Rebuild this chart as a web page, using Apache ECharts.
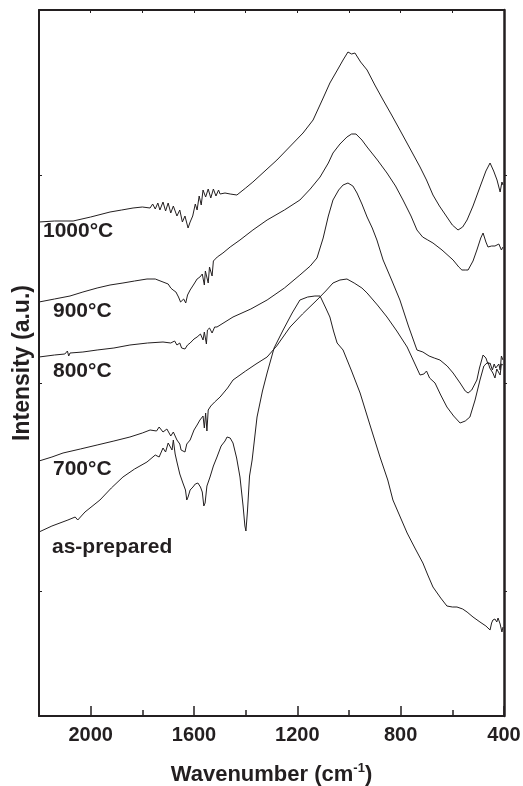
<!DOCTYPE html>
<html>
<head>
<meta charset="utf-8">
<script src="https://cdn.jsdelivr.net/npm/echarts@6/dist/echarts.min.js"></script>
<style>
  html, body { margin: 0; padding: 0; background: #fff; }
  #chart { width: 523px; height: 786px; }
</style>
</head>
<body>
<div id="chart"></div>
<script>
// FTIR spectra, [wavenumber (cm-1), intensity (a.u., offset stacked)]
const s1000 = [[2200,494],[2140,495],[2068,495],[2000,499],[1925,504],[1880,506],[1836,508],[1800,509],[1770,508],[1760,512],[1750,507],[1740,513],[1732,506],[1720,514],[1710,505],[1700,513],[1690,503],[1680,510],[1666,500],[1655,506],[1645,494],[1635,500],[1623,488],[1615,494],[1605,500],[1595,512],[1588,506],[1580,520],[1572,511],[1565,526],[1555,519],[1545,527],[1535,518],[1525,527],[1515,520],[1505,526],[1499,522],[1480,523],[1460,522],[1434,521],[1400,528],[1372,534],[1279,556],[1178,583],[1139,596],[1100,618],[1074,633],[1045,646],[1023,656],[1004,664],[990,662],[977,663],[955,654],[930,646],[900,631],[868,616],[835,601],[803,586],[765,568],[725,549],[700,536],[675,521],[650,510],[621,499],[600,491],[578,486],[560,489],[543,496],[520,510],[493,529],[470,545],[454,553],[440,545],[427,536],[415,524],[408,534],[404,531]];
const s900 = [[2200,414],[2140,417],[2080,420],[2030,424],[1975,428],[1925,431],[1875,433],[1830,435],[1782,437],[1750,437],[1720,434],[1700,432],[1690,428],[1681,426],[1670,424],[1660,419],[1652,414],[1646,412],[1640,417],[1632,413],[1625,421],[1615,426],[1600,432],[1588,437],[1577,439],[1568,442],[1560,431],[1556,445],[1550,447],[1545,433],[1540,449],[1535,450],[1530,440],[1525,455],[1510,459],[1488,463],[1460,469],[1422,476],[1372,486],[1317,496],[1250,506],[1190,516],[1150,527],[1112,539],[1080,553],[1062,563],[1035,572],[1008,579],[990,582],[973,582],[950,576],[930,569],[890,556],[853,543],[820,530],[791,516],[760,500],[737,486],[715,479],[695,476],[675,473],[640,466],[597,456],[575,449],[563,446],[550,446],[539,446],[520,455],[505,466],[490,478],[481,483],[470,474],[462,469],[455,468],[448,470],[443,468],[435,470],[428,468],[420,472],[415,471],[410,466],[404,469]];
const s800 = [[2200,359],[2140,361],[2100,362],[2090,365],[2085,360],[2080,363],[2030,364],[1975,366],[1910,368],[1848,371],[1780,373],[1720,374],[1690,373],[1675,375],[1666,371],[1655,373],[1648,368],[1643,369],[1635,367],[1625,371],[1615,373],[1600,377],[1588,379],[1575,382],[1565,376],[1560,384],[1552,372],[1548,386],[1540,388],[1530,383],[1520,389],[1511,389],[1480,394],[1449,399],[1380,407],[1317,416],[1250,428],[1190,441],[1150,450],[1124,458],[1100,478],[1080,500],[1062,516],[1040,526],[1023,531],[1004,533],[985,530],[969,523],[950,512],[930,499],[910,488],[892,476],[868,456],[835,436],[803,416],[770,390],[737,366],[714,364],[690,360],[670,358],[648,356],[620,350],[597,343],[570,333],[550,325],[539,323],[525,326],[505,336],[495,348],[481,361],[470,358],[462,352],[454,353],[445,346],[438,352],[432,348],[427,348],[420,352],[415,346],[410,360],[404,356]];
const s700 = [[2200,255],[2150,259],[2107,263],[2040,267],[1975,271],[1910,275],[1848,279],[1800,283],[1770,286],[1745,285],[1735,289],[1720,284],[1705,287],[1690,280],[1680,284],[1666,276],[1655,272],[1650,266],[1643,268],[1635,264],[1628,272],[1615,276],[1600,286],[1588,291],[1577,296],[1565,300],[1560,288],[1555,303],[1550,285],[1545,306],[1535,310],[1520,314],[1499,319],[1470,328],[1449,336],[1400,345],[1360,352],[1317,359],[1280,370],[1228,389],[1180,402],[1124,416],[1090,425],[1062,433],[1035,436],[1008,437],[980,433],[950,428],[930,423],[890,411],[853,399],[815,385],[775,369],[750,355],[725,341],[710,342],[700,345],[694,344],[688,338],[667,333],[645,321],[621,309],[595,300],[570,293],[550,295],[532,299],[512,316],[493,336],[478,350],[462,354],[455,348],[443,343],[435,338],[428,347],[423,346],[415,341],[410,352],[404,351]];
const sPrep = [[2200,184],[2150,190],[2088,196],[2060,199],[2050,196],[2022,204],[1964,216],[1920,228],[1875,239],[1830,247],[1782,254],[1750,261],[1735,259],[1720,268],[1710,264],[1700,273],[1693,271],[1685,266],[1680,276],[1673,262],[1666,254],[1655,242],[1643,233],[1633,226],[1628,216],[1623,219],[1615,226],[1604,229],[1595,232],[1585,233],[1575,229],[1568,224],[1562,210],[1557,213],[1550,230],[1538,239],[1525,250],[1511,259],[1495,270],[1480,275],[1472,279],[1460,278],[1449,273],[1435,258],[1422,239],[1410,210],[1403,190],[1399,185],[1393,205],[1385,240],[1375,256],[1356,299],[1335,325],[1317,343],[1290,368],[1255,386],[1220,403],[1190,416],[1160,419],[1132,420],[1112,420],[1090,408],[1074,399],[1060,385],[1046,373],[1023,366],[990,345],[957,323],[920,292],[880,259],[850,236],[830,216],[800,198],[775,183],[745,168],[714,153],[695,141],[675,129],[645,118],[621,110],[600,109],[582,109],[560,107],[543,104],[520,99],[493,94],[470,90],[454,86],[448,93],[443,96],[435,97],[428,94],[423,98],[415,92],[408,84],[404,89]];

const seriesNames = ["1000°C", "900°C", "800°C", "700°C", "as-prepared"];
const seriesData = [s1000, s900, s800, s700, sPrep];
const majorTicks = [400, 800, 1200, 1600, 2000];
const minorTicks = [600, 1000, 1400, 1800];
const topTicks = [600, 800, 1000, 1200, 1400, 1600, 1800, 2000];
const yTicks = [125, 333, 541];

const ink = "#231f20";
const font = "'Liberation Sans', Arial, sans-serif";

const chart = echarts.init(document.getElementById("chart"));

// label positions (px) for the curve names
const labelPos = [[43, 232], [53, 312], [53, 372], [53, 470], [52, 548]];

const options = {
  animation: false,
  backgroundColor: "#fff",
  grid: { left: 39, right: 19, top: 10, bottom: 70, containLabel: false, outerBoundsMode: "none" },
  xAxis: [
    {
      type: "value", min: 400, max: 2200, inverse: true, position: "bottom",
      axisLine: { lineStyle: { color: ink, width: 2 } },
      axisTick: { inside: true, length: 10, lineStyle: { color: ink, width: 1.5 }, customValues: majorTicks },
      axisLabel: {
        customValues: majorTicks, color: ink, fontSize: 20, fontWeight: "bold", fontFamily: font, margin: 9,
        formatter: function(v) { return String(v); }
      },
      splitLine: { show: false },
      name: "{a|Wavenumber (cm}{s|-1}{a|)}",
      nameLocation: "middle", nameGap: 46,
      nameTextStyle: {
        rich: {
          a: { color: ink, fontSize: 22, fontWeight: "bold", fontFamily: font },
          s: { color: ink, fontSize: 13, fontWeight: "bold", fontFamily: font, padding: [0, 0, 12, 0] }
        }
      }
    },
    {
      type: "value", min: 400, max: 2200, inverse: true, position: "bottom",
      axisLine: { show: false },
      axisTick: { inside: true, length: 6, lineStyle: { color: ink, width: 1.5 }, customValues: minorTicks },
      axisLabel: { show: false }, splitLine: { show: false }
    },
    {
      type: "value", min: 400, max: 2200, inverse: true, position: "top",
      axisLine: { lineStyle: { color: ink, width: 2 } },
      axisTick: { inside: true, length: 3, lineStyle: { color: ink, width: 1 }, customValues: topTicks },
      axisLabel: { show: false }, splitLine: { show: false }
    }
  ],
  yAxis: [
    {
      type: "value", min: 0, max: 706, position: "left",
      axisLine: { show: true, lineStyle: { color: ink, width: 2 } },
      axisTick: { show: true, inside: true, length: 3, lineStyle: { color: ink, width: 1 }, customValues: yTicks },
      axisLabel: { show: false }, splitLine: { show: false },
      name: "Intensity (a.u.)", nameLocation: "middle", nameGap: 5,
      nameTextStyle: { color: ink, fontSize: 23, fontWeight: "bold", fontFamily: font }
    },
    {
      type: "value", min: 0, max: 706, position: "right",
      axisLine: { show: true, lineStyle: { color: ink, width: 2.5 } },
      axisTick: { show: true, inside: false, length: 3, lineStyle: { color: ink, width: 1 }, customValues: yTicks },
      axisLabel: { show: false }, splitLine: { show: false }
    }
  ],
  series: seriesData.map((d, i) => ({
    name: seriesNames[i],
    type: "line",
    xAxisIndex: 0,
    yAxisIndex: 0,
    data: d,
    showSymbol: false,
    symbol: "none",
    lineStyle: { color: ink, width: 1 },
    silent: true
  })),
  graphic: seriesNames.map((n, i) => ({
    type: "text",
    left: labelPos[i][0],
    top: labelPos[i][1] - 11,
    style: { text: n, fill: ink, font: "bold 21px " + font }
  }))
};

chart.setOption(options);
</script>
</body>
</html>
